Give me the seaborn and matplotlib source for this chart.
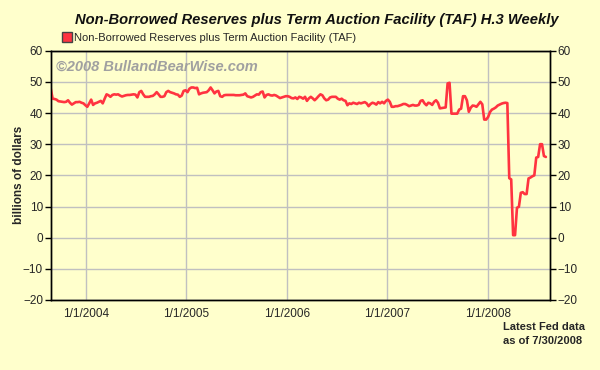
import matplotlib
matplotlib.use("Agg")
import matplotlib.pyplot as plt
from matplotlib.lines import Line2D
import seaborn as sns
import pandas as pd

# weekly values, billions of dollars, 2003-08-27 .. 2008-07-30
values = [
    47.9, 44.6, 44.5, 44.3, 43.8, 43.7, 43.6, 43.5, 43.6, 44.1,
    43.3, 42.7, 43.1, 43.5, 43.5, 43.6, 43.3, 43.1, 42.5, 42.0,
    43.1, 44.3, 42.6, 43.1, 43.3, 43.6, 43.9, 43.1, 44.6, 46.0,
    45.7, 45.2, 45.8, 46.0, 45.9, 46.0, 45.6, 45.3, 45.5, 45.7,
    45.8, 45.8, 45.9, 46.0, 45.9, 45.0, 46.7, 47.1, 46.0, 45.2,
    45.2, 45.2, 45.4, 45.5, 46.0, 46.7, 46.0, 45.2, 45.2, 45.4,
    46.7, 47.1, 46.7, 46.5, 46.3, 46.0, 45.9, 45.2, 45.6, 47.1,
    47.3, 46.7, 47.8, 48.2, 48.2, 48.0, 48.1, 46.0, 46.3, 46.5,
    46.6, 46.7, 47.3, 48.2, 47.3, 46.3, 46.9, 47.1, 45.4, 45.2,
    45.7, 45.8, 45.8, 45.8, 45.8, 45.8, 45.7, 45.7, 45.7, 45.8,
    45.9, 46.3, 45.4, 45.2, 45.0, 45.2, 45.6, 46.0, 45.9, 46.7,
    46.9, 45.0, 45.8, 46.0, 45.7, 45.6, 45.8, 45.6, 45.2, 44.8,
    45.0, 45.2, 45.4, 45.4, 45.2, 44.8, 44.7, 45.0, 44.5, 45.2,
    45.0, 44.6, 45.2, 43.9, 44.7, 45.2, 44.7, 44.1, 44.7, 45.4,
    46.0, 45.7, 44.7, 44.1, 44.3, 45.0, 45.2, 45.2, 45.2, 44.6,
    44.3, 44.6, 44.1, 43.9, 42.5, 43.1, 42.9, 43.3, 43.1, 42.9,
    43.3, 43.1, 43.3, 43.5, 43.1, 42.2, 42.9, 43.3, 43.1, 42.7,
    43.5, 43.1, 43.6, 43.1, 43.9, 44.3, 43.6, 42.0, 42.0, 42.2,
    42.2, 42.4, 42.6, 42.9, 42.9, 42.6, 42.2, 42.4, 42.6, 42.4,
    42.4, 42.6, 43.9, 44.1, 43.1, 42.5, 43.3, 43.1, 42.6, 43.6,
    44.1, 43.3, 41.5, 41.6, 41.7, 41.8, 49.5, 49.7, 39.8, 39.8,
    39.8, 39.8, 41.1, 41.4, 45.4, 45.4, 44.1, 40.4, 41.7, 42.4,
    42.3, 42.0, 42.8, 43.6, 42.8, 37.9, 37.9, 38.7, 40.3, 41.1,
    41.4, 41.8, 42.4, 42.7, 43.0, 43.2, 43.3, 43.2, 19.1, 18.7,
    0.8, 0.8, 9.6, 9.9, 14.4, 14.6, 14.0, 14.0, 19.0, 19.3,
    19.7, 20.0, 25.7, 25.9, 30.0, 30.0, 26.2, 25.9,
]
dates = pd.date_range("2003-08-27", periods=len(values), freq="7D")
series_name = "Non-Borrowed Reserves plus Term Auction Facility (TAF)"
title = "Non-Borrowed Reserves plus Term Auction Facility (TAF) H.3 Weekly"
y_ticks = [-20, -10, 0, 10, 20, 30, 40, 50, 60]
x_ticks = ["2004-01-01", "2005-01-01", "2006-01-01", "2007-01-01", "2008-01-01"]

df = pd.DataFrame({"date": dates, "value": values})

BG = "#FFFFCC"
RED = "#FF3340"
sns.set_style("white")
plt.rcParams["font.family"] = ["Liberation Sans", "DejaVu Sans"]

fig = plt.figure(figsize=(6.0, 3.7), dpi=100, facecolor=BG)
ax = fig.add_axes([50.7 / 600, 1 - 300 / 370, (550 - 50.7) / 600, (300 - 50.7) / 370])
ax.set_facecolor(BG)

sns.lineplot(data=df, x="date", y="value", ax=ax, color=RED, linewidth=1.9, zorder=3)

ax.set_ylim(-20, 60)
ax.set_yticks(y_ticks)
ax.set_xlim(pd.Timestamp("2003-08-27"), pd.Timestamp("2008-08-14"))
xt = [pd.Timestamp(t) for t in x_ticks]
ax.set_xticks(xt)
ax.set_xticklabels([f"{t.month}/{t.day}/{t.year}" for t in xt])
ax.grid(True, color="#C0C0C0", linewidth=1.0, zorder=0)
ax.set_axisbelow(True)
for s in ax.spines.values():
    s.set_color("black")
    s.set_linewidth(1.0)
ax.tick_params(axis="both", direction="out", length=4, width=1, color="black",
               labelsize=8.5, pad=1.5)
ax.set_xlabel("")
ax.set_ylabel("billions of dollars", fontsize=8.5, fontweight="bold")
ax.yaxis.set_label_coords(-0.052, 0.5)

ax2 = ax.twinx()
ax2.set_ylim(-20, 60)
ax2.set_yticks(y_ticks)
ax2.tick_params(axis="y", direction="out", length=4, width=1, color="black",
                labelsize=8.5, pad=1.5)
for s in ax2.spines.values():
    s.set_color("black")
    s.set_linewidth(1.0)

fig.text(317 / 600, 1 - 20 / 370, title, ha="center", va="center",
         fontsize=10.6, fontweight="bold", fontstyle="italic", color="#111111")

handle = Line2D([], [], marker="s", linestyle="none", markerfacecolor=RED,
                markeredgecolor="#444444", markersize=7)
fig.legend([handle], [series_name], loc="center left",
           bbox_to_anchor=(56 / 600, 1 - 38 / 370), frameon=False,
           fontsize=8, handletextpad=0.1, borderpad=0, handlelength=1.0)

ax.text(0.01, 0.965, "\u00a92008 BullandBearWise.com", transform=ax.transAxes,
        ha="left", va="top", fontsize=10.5, fontweight="bold", fontstyle="italic",
        color="#A0A0A0", zorder=2)

fig.text(503 / 600, 1 - 334 / 370, "Latest Fed data\nas of 7/30/2008",
         ha="left", va="center", fontsize=8, fontweight="bold", linespacing=1.45)

fig.savefig("out.png", dpi=100, facecolor=BG)
